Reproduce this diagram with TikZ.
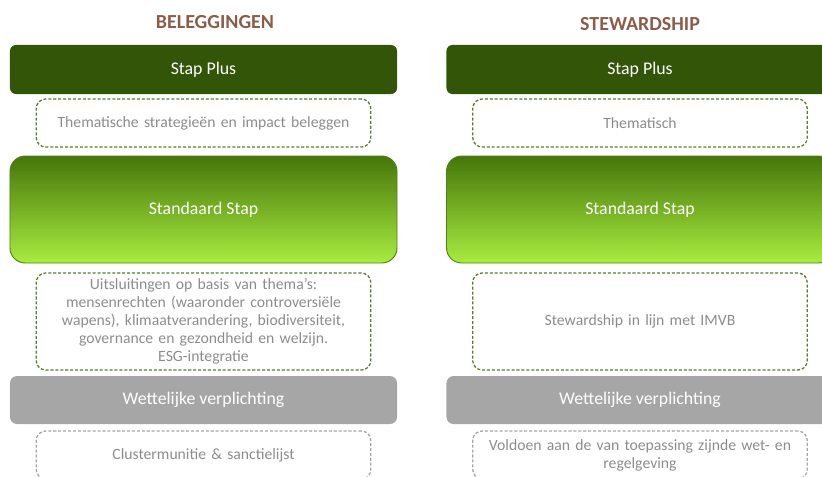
\documentclass[tikz,border=0pt]{standalone}
\usepackage{fontspec}
\setmainfont{Carlito}
\usetikzlibrary{positioning}

\definecolor{plusgreen}{RGB}{51,85,8}
\definecolor{stdtop}{RGB}{70,118,10}
\definecolor{stdmid}{RGB}{104,172,16}
\definecolor{stdbot}{RGB}{168,236,64}
\definecolor{stdedge}{RGB}{80,130,20}
\definecolor{dashgreen}{RGB}{84,126,40}
\definecolor{lawgray}{RGB}{166,166,166}
\definecolor{softgray}{RGB}{140,140,140}
\definecolor{titlebrown}{RGB}{140,92,72}

\begin{document}
\begin{tikzpicture}[
    x=0.03cm, y=-0.03cm,
    title/.style={text=titlebrown, font=\fontsize{17}{20}\selectfont\bfseries},
    plusbox/.style={rectangle, rounded corners=5pt, fill=plusgreen, text=white, minimum width=11.61cm, minimum height=1.47cm, outer sep=0pt, font=\fontsize{15.2}{18}\selectfont},
    stdbox/.style={rectangle, rounded corners=13pt, draw=stdedge, line width=0.8pt, top color=stdtop, middle color=stdmid, bottom color=stdbot, text=white, minimum width=11.61cm, minimum height=3.21cm, outer sep=0pt, font=\fontsize{15.2}{18}\selectfont},
    lawbox/.style={rectangle, rounded corners=6pt, fill=lawgray, text=white, minimum width=11.61cm, minimum height=1.44cm, outer sep=0pt, font=\fontsize{15.2}{18}\selectfont},
    note/.style={rectangle, rounded corners=8pt, draw=dashgreen, line width=1.1pt, dash pattern=on 2.6pt off 1.6pt, text=softgray, text width=9.8cm, align=center, minimum width=10.02cm, outer sep=0pt, font=\fontsize{13.4}{15.4}\selectfont},
    lawnote/.style={note, draw=lawgray}
]
\useasboundingbox (0,0) rectangle (822,476);
\clip (0,0) rectangle (822,476);

% Beleggingen
\node[title] (belTitle) at (215,22) {BELEGGINGEN};
\node[plusbox] (belPlus) at (203.5,69.5) {Stap Plus};
\node[note, minimum height=1.44cm, below=0.15cm of belPlus] (belThema) {Thematische strategieën en impact beleggen};
\node[stdbox, below=0.27cm of belThema] (belStd) {Standaard Stap};
\node[note, minimum height=2.91cm, below=0.3cm of belStd] (belUitsl) {Uitsluitingen op basis van thema’s:\\mensenrechten (waaronder controversiële\\wapens), klimaatverandering, biodiversiteit,\\governance en gezondheid en welzijn.\\ESG-integratie};
\node[lawbox, below=0.18cm of belUitsl] (belWet) {Wettelijke verplichting};
\node[lawnote, minimum height=1.44cm, below=0.21cm of belWet] (belCluster) {Clustermunitie \& sanctielijst};

% Stewardship
\node[title] (stwTitle) at (640,24) {STEWARDSHIP};
\node[plusbox] (stwPlus) at (640,69.5) {Stap Plus};
\node[note, minimum height=1.44cm, below=0.15cm of stwPlus] (stwThema) {Thematisch};
\node[stdbox, below=0.27cm of stwThema] (stwStd) {Standaard Stap};
\node[note, minimum height=2.91cm, below=0.3cm of stwStd] (stwImvb) {Stewardship in lijn met IMVB};
\node[lawbox, below=0.18cm of stwImvb] (stwWet) {Wettelijke verplichting};
\node[lawnote, minimum height=1.44cm, below=0.21cm of stwWet] (stwRegel) {Voldoen aan de van toepassing zijnde wet- en\\regelgeving};

\end{tikzpicture}
\end{document}
